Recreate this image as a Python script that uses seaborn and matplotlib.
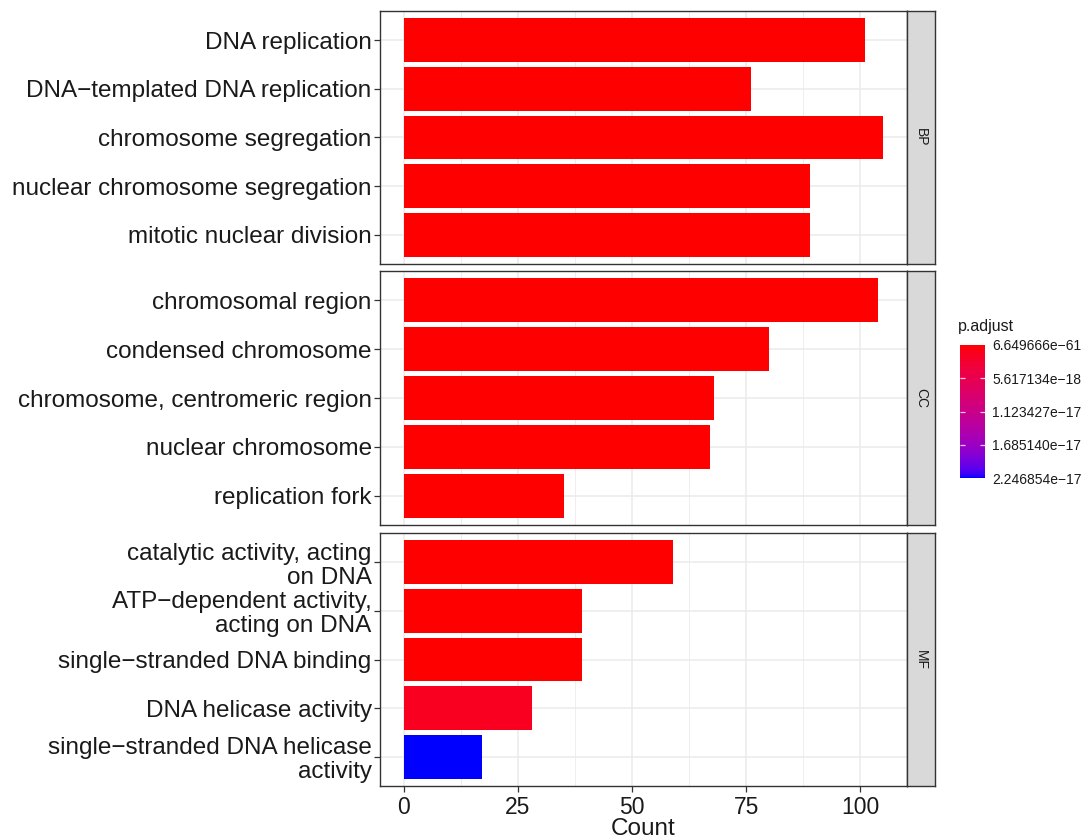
import numpy as np
import pandas as pd
import matplotlib
matplotlib.use("Agg")
import matplotlib.pyplot as plt
import matplotlib.colors as mcolors
import seaborn as sns

# ---------------- data ----------------
bp_terms = ["DNA replication", "DNA\u2212templated DNA replication", "chromosome segregation",
            "nuclear chromosome segregation", "mitotic nuclear division"]
bp_counts = [101, 76, 105, 89, 89]
bp_padj = [3.2e-45, 1.1e-40, 6.649666e-61, 2.5e-50, 4.1e-48]

cc_terms = ["chromosomal region", "condensed chromosome", "chromosome, centromeric region",
            "nuclear chromosome", "replication fork"]
cc_counts = [104, 80, 68, 67, 35]
cc_padj = [1.9e-55, 7.3e-42, 2.2e-33, 5.6e-25, 3.4e-26]

mf_terms = ["catalytic activity, acting\non DNA", "ATP\u2212dependent activity,\nacting on DNA",
            "single\u2212stranded DNA binding", "DNA helicase activity",
            "single\u2212stranded DNA helicase\nactivity"]
mf_counts = [59, 39, 39, 28, 17]
mf_padj = [8.1e-28, 4.4e-20, 2.7e-22, 1.6e-18, 2.246854e-17]

ontologies = ["BP", "CC", "MF"]
legend_breaks = [6.649666e-61, 5.617134e-18, 1.123427e-17, 1.685140e-17, 2.246854e-17]
legend_labels = ["6.649666e\u221261", "5.617134e\u221218", "1.123427e\u221217",
                 "1.685140e\u221217", "2.246854e\u221217"]
x_ticks = [0, 25, 50, 75, 100]

# ---------------- colour scale (Lab interpolation red -> blue) ----------------
def srgb_to_lab(rgb):
    rgb = np.asarray(rgb, float)
    lin = np.where(rgb <= 0.04045, rgb / 12.92, ((rgb + 0.055) / 1.055) ** 2.4)
    M = np.array([[0.4124564, 0.3575761, 0.1804375],
                  [0.2126729, 0.7151522, 0.0721750],
                  [0.0193339, 0.1191920, 0.9503041]])
    xyz = M @ lin
    wp = np.array([0.95047, 1.0, 1.08883])
    t = xyz / wp
    f = np.where(t > (6 / 29) ** 3, np.cbrt(t), t / (3 * (6 / 29) ** 2) + 4 / 29)
    return np.array([116 * f[1] - 16, 500 * (f[0] - f[1]), 200 * (f[1] - f[2])])

def lab_to_srgb(lab):
    L, a, b = lab
    fy = (L + 16) / 116
    fx = fy + a / 500
    fz = fy - b / 200
    def finv(f):
        return np.where(f > 6 / 29, f ** 3, 3 * (6 / 29) ** 2 * (f - 4 / 29))
    wp = np.array([0.95047, 1.0, 1.08883])
    xyz = np.array([finv(fx), finv(fy), finv(fz)]) * wp
    Minv = np.array([[3.2404542, -1.5371385, -0.4985314],
                     [-0.9692660, 1.8760108, 0.0415560],
                     [0.0556434, -0.2040259, 1.0572252]])
    lin = Minv @ xyz
    lin = np.clip(lin, 0, 1)
    rgb = np.where(lin <= 0.0031308, 12.92 * lin, 1.055 * lin ** (1 / 2.4) - 0.055)
    return np.clip(rgb, 0, 1)

lab_lo = srgb_to_lab([1, 0, 0])
lab_hi = srgb_to_lab([0, 0, 1])
cols = [lab_to_srgb(lab_lo + (lab_hi - lab_lo) * t) for t in np.linspace(0, 1, 256)]
cmap = mcolors.ListedColormap(cols)
norm = mcolors.Normalize(vmin=legend_breaks[0], vmax=legend_breaks[-1])

# ---------------- figure ----------------
sns.set_style("white")
plt.rcParams["font.family"] = ["Liberation Sans", "DejaVu Sans"]

W, H = 1086, 840
fig = plt.figure(figsize=(W / 100, H / 100), dpi=100)

px = lambda x: x / W
py = lambda y: 1 - y / H

left, right = 380, 907
strip_r = 935
panels = [(11, 264), (271, 525), (533, 786)]
dark = "#333333"
txt = "#1A1A1A"

groups = [(bp_terms, bp_counts, bp_padj), (cc_terms, cc_counts, cc_padj),
          (mf_terms, mf_counts, mf_padj)]

xmax = max(bp_counts + cc_counts + mf_counts)
xlim = (-0.05 * xmax, 1.05 * xmax)

axes = []
for i, ((terms, counts, padj), (t0, t1)) in enumerate(zip(groups, panels)):
    ax = fig.add_axes([px(left), py(t1), px(right - left), (t1 - t0) / H])
    df = pd.DataFrame({"Description": terms, "Count": counts, "p.adjust": padj})
    pal = {d: cmap(norm(p)) for d, p in zip(terms, padj)}
    sns.barplot(data=df, x="Count", y="Description", hue="Description", palette=pal,
                order=terms, hue_order=terms, orient="h", width=0.9, legend=False,
                linewidth=0, saturation=1, ax=ax)
    ax.set_xlim(*xlim)
    ax.set_ylim(len(terms) - 1 + 0.6, -0.6)
    ax.set_axisbelow(True)
    ax.set_xticks(x_ticks)
    ax.set_xticks([12.5, 37.5, 62.5, 87.5], minor=True)
    ax.grid(True, which="major", color="#EBEBEB", linewidth=1.1)
    ax.grid(True, which="minor", axis="x", color="#EBEBEB", linewidth=0.6)
    for s in ax.spines.values():
        s.set_color(dark)
        s.set_linewidth(1.0)
        s.set_visible(True)
    ax.set_ylabel("")
    ax.set_xlabel("")
    ax.tick_params(axis="y", which="major", length=4, width=0.9, color=dark,
                   labelsize=17.5, labelcolor=txt, pad=2, left=True)
    for lab in ax.get_yticklabels():
        lab.set_linespacing(1.12)
    if i < 2:
        ax.tick_params(axis="x", which="both", bottom=False, labelbottom=False)
    else:
        ax.tick_params(axis="x", which="major", length=4, width=0.9, color=dark,
                       labelsize=16.5, labelcolor=txt, pad=3.5, bottom=True)
        ax.tick_params(axis="x", which="minor", length=0)
        ax.set_xlabel("Count", fontsize=17.5, color=txt, labelpad=-1)
    axes.append(ax)

    # facet strip
    sax = fig.add_axes([px(right), py(t1), px(strip_r - right), (t1 - t0) / H])
    sax.set_facecolor("#D9D9D9")
    sax.set_xticks([])
    sax.set_yticks([])
    for s in sax.spines.values():
        s.set_color(dark)
        s.set_linewidth(1.0)
    sax.text(0.5, 0.5, ontologies[i], rotation=-90, ha="center", va="center",
             fontsize=10, color=txt, transform=sax.transAxes)

# ---------------- colour bar legend ----------------
cax = fig.add_axes([px(960), py(478), px(25), 133 / H])
sm = matplotlib.cm.ScalarMappable(norm=norm, cmap=cmap)
cb = fig.colorbar(sm, cax=cax)
cb.outline.set_visible(False)
cb.set_ticks(legend_breaks)
cb.set_ticklabels(legend_labels)
cax.tick_params(length=0, labelsize=10, labelcolor=txt, pad=5)
ylo, yhi = cax.get_ylim()
xlo, xhi = cax.get_xlim()
for v in legend_breaks[1:-1]:
    cax.hlines(v, xlo, xlo + 0.2 * (xhi - xlo), colors="white", linewidth=0.9, alpha=0.8)
    cax.hlines(v, xhi - 0.2 * (xhi - xlo), xhi, colors="white", linewidth=0.9, alpha=0.8)
cax.set_xlim(xlo, xhi)
cax.set_ylim(yhi, ylo)
fig.text(px(958), py(327), "p.adjust", fontsize=11.5, color=txt, ha="left", va="center")

fig.savefig("out.png", dpi=100, facecolor="white")
